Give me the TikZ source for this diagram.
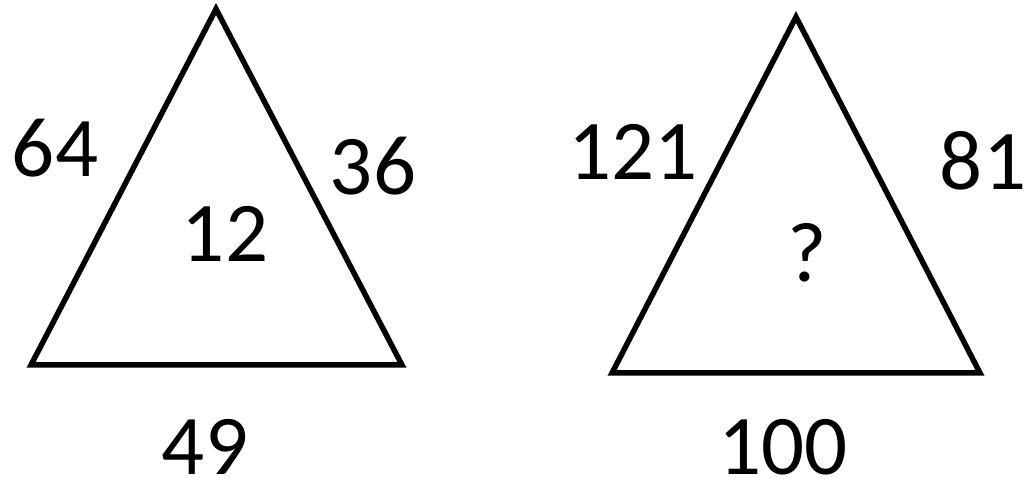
\documentclass[tikz,border=0pt]{standalone}
\usepackage{fontspec}
\setmainfont{Carlito}
\begin{document}
\begin{tikzpicture}[x=1pt,y=1pt,
  tri/.style={draw=black,line width=5.5pt,line join=miter},
  num/.style={anchor=base,inner sep=0pt,font=\fontsize{85}{90}\selectfont}]
\useasboundingbox (0,0) rectangle (1025,479);
\fill[white] (0,0) rectangle (1025,479);
% left triangle
\coordinate (la) at (216,470);
\coordinate (lb) at (31,114);
\coordinate (lc) at (402,114);
\draw[tri] (la) -- (lb) -- (lc) -- cycle;
% right triangle
\coordinate (ra) at (796,462);
\coordinate (rb) at (612,106);
\coordinate (rc) at (980,106);
\draw[tri] (ra) -- (rb) -- (rc) -- cycle;
% labels
\node[num] (t64) at (55,302) {64};
\node[num] (t36) at (373,284) {36};
\node[num] (t12) at (225,217) {12};
\node[num] (t49) at (205,4) {49};
\node[num] (t121) at (633,299) {121};
\node[num] (t81) at (983,289) {81};
\node[num] (tq) at (807,197) {?};
\node[num] (t100) at (783,4) {100};
\end{tikzpicture}
\end{document}
